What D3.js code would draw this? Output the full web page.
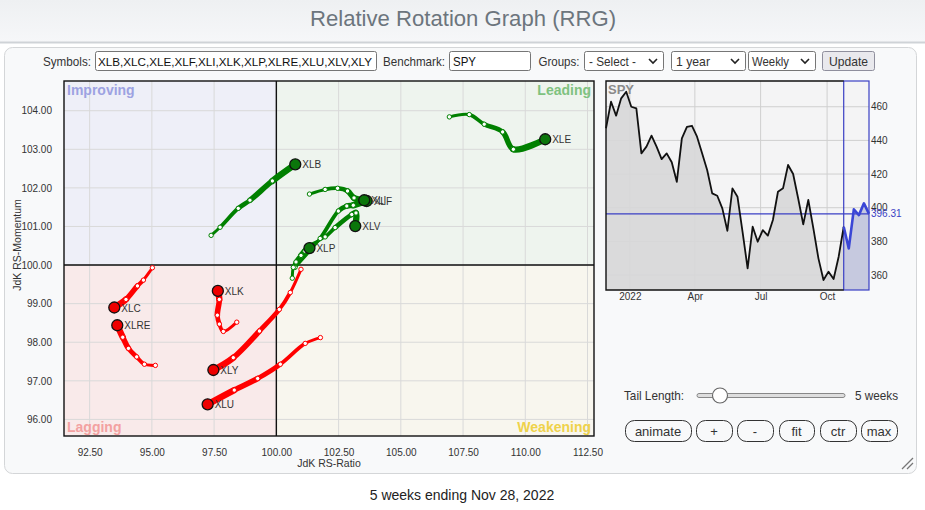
<!DOCTYPE html>
<html>
<head>
<meta charset="utf-8">
<script src="https://cdnjs.cloudflare.com/ajax/libs/d3/7.8.5/d3.min.js"></script>
<style>
  body { margin: 0; background: #fff; }
  svg { display: block; font-family: Arial, "Liberation Sans", sans-serif; }
</style>
</head>
<body>
<div class="svg"></div>
<script>
// sector ETFs on the RRG, oldest week first, last value is the head of the tail
var symbols = ['XLB', 'XLC', 'XLE', 'XLF', 'XLI', 'XLK', 'XLP', 'XLRE', 'XLU', 'XLV', 'XLY'];
var rsRatio = [
  [97.38, 97.74, 98.47, 98.94, 99.84, 100.76],
  [95.02, 94.66, 94.42, 93.96, 93.49],
  [106.95, 107.75, 108.35, 109.09, 109.52, 110.80],
  [100.75, 101.76, 102.49, 102.83, 103.09, 103.63],
  [101.33, 101.96, 102.46, 102.86, 103.12, 103.53],
  [98.41, 97.87, 97.71, 97.63, 97.71, 97.65],
  [100.64, 100.68, 100.79, 100.99, 101.15, 101.33],
  [95.14, 94.70, 94.39, 94.06, 93.83, 93.61],
  [101.77, 101.16, 100.16, 99.25, 98.31, 97.24],
  [101.35, 101.96, 102.36, 103.03, 103.20, 103.17],
  [100.99, 100.56, 100.12, 99.32, 98.27, 97.47]
];
var rsMomentum = [
  [100.77, 100.98, 101.47, 101.68, 102.18, 102.61],
  [99.93, 99.61, 99.46, 99.11, 98.90],
  [103.84, 103.90, 103.65, 103.45, 103.00, 103.26],
  [99.94, 100.69, 101.40, 101.53, 101.55, 101.66],
  [101.84, 101.96, 101.99, 101.92, 101.74, 101.68],
  [98.52, 98.28, 98.47, 98.70, 99.11, 99.33],
  [99.66, 99.94, 100.08, 100.25, 100.36, 100.44],
  [97.40, 97.43, 97.62, 97.84, 98.13, 98.44],
  [98.12, 97.97, 97.43, 97.06, 96.76, 96.39],
  [100.52, 100.73, 100.97, 101.31, 101.35, 101.01],
  [99.89, 99.29, 98.85, 98.29, 97.60, 97.28]
];
var ratioTicks = [92.5, 95, 97.5, 100, 102.5, 105, 107.5, 110, 112.5];
var momentumTicks = [96, 97, 98, 99, 100, 101, 102, 103, 104];

// benchmark, weekly closes
var spyDates = [
  '2021-11-29', '2021-12-06', '2021-12-13', '2021-12-20', '2021-12-27',
  '2022-01-03', '2022-01-10', '2022-01-17', '2022-01-24', '2022-01-31',
  '2022-02-07', '2022-02-14', '2022-02-21', '2022-02-28', '2022-03-07',
  '2022-03-14', '2022-03-21', '2022-03-28', '2022-04-04', '2022-04-11',
  '2022-04-18', '2022-04-25', '2022-05-02', '2022-05-09', '2022-05-16',
  '2022-05-23', '2022-05-30', '2022-06-06', '2022-06-13', '2022-06-20',
  '2022-06-27', '2022-07-04', '2022-07-11', '2022-07-18', '2022-07-25',
  '2022-08-01', '2022-08-08', '2022-08-15', '2022-08-22', '2022-08-29',
  '2022-09-05', '2022-09-12', '2022-09-19', '2022-09-26', '2022-10-03',
  '2022-10-10', '2022-10-17', '2022-10-24', '2022-10-31', '2022-11-07',
  '2022-11-14', '2022-11-21', '2022-11-28'
];
var spyClose = [
  447.2, 463.0, 454.7, 465.0, 468.9, 460.0, 459.0, 432.3, 436.3, 442.8,
  436.3, 428.9, 432.3, 427.0, 415.4, 441.2, 448.1, 448.7, 442.2, 432.3,
  422.4, 408.5, 407.1, 399.6, 386.3, 411.5, 406.5, 385.7, 364.0, 388.7,
  379.8, 386.7, 383.4, 392.7, 409.5, 411.5, 425.4, 420.0, 405.5, 390.1,
  404.6, 387.7, 369.9, 357.0, 362.0, 357.6, 370.9, 388.7, 375.8, 399.0,
  395.6, 402.6, 396.31
];
var spyTicks = [360, 380, 400, 420, 440, 460];
var monthTicks = ['2022-01-01', '2022-04-01', '2022-07-01', '2022-10-01'];
var monthLabels = ['2022', 'Apr', 'Jul', 'Oct'];
var tailWeeks = 5;

function rrgDraw(settings) {
  Object.assign(this, rrgDraw.defaults, settings);
  this.appendSvg('div.svg');
  this.drawHeader();
  this.drawControls();
  this.drawQuadrants();
  this.drawTails();
  this.drawSpy();
  this.drawFooter();
}

rrgDraw.defaults = {
  'svg_width': 925,
  'svg_height': 510,
  'plot': {left: 64, right: 594, top: 81, bottom: 436},
  'spy': {left: 606, right: 869, top: 81, bottom: 290},
  'ratioDomain': [91.47, 112.76],
  'momentumDomain': [95.57, 104.77],
  'spyDomain': [351.1, 475.3]
};

rrgDraw.prototype.appendSvg = function (selector) {
  this.svg = d3.select(selector || 'body')
    .append('svg')
    .attr('width', this.svg_width)
    .attr('height', this.svg_height);
  var defs = this.svg.append('defs');
  var grad = defs.append('linearGradient').attr('id', 'band').attr('x1', 0).attr('x2', 0).attr('y1', 0).attr('y2', 1);
  grad.append('stop').attr('offset', '0%').attr('stop-color', '#eef0f2');
  grad.append('stop').attr('offset', '100%').attr('stop-color', '#f6f7f9');
  defs.append('clipPath').attr('id', 'plotClip').append('rect')
    .attr('x', this.plot.left).attr('y', this.plot.top)
    .attr('width', this.plot.right - this.plot.left).attr('height', this.plot.bottom - this.plot.top);
};

rrgDraw.prototype.drawHeader = function () {
  var svg = this.svg;
  svg.append('rect').attr('x', 0).attr('y', 0).attr('width', this.svg_width).attr('height', 42).attr('fill', 'url(#band)');
  svg.append('rect').attr('x', 0).attr('y', 41.5).attr('width', this.svg_width).attr('height', 2).attr('fill', '#cfd3d7');
  svg.append('text')
    .text('Relative Rotation Graph (RRG)')
    .attr('x', 463).attr('y', 26)
    .attr('text-anchor', 'middle')
    .attr('font-family', '"Liberation Sans Narrow", "Arial Narrow", Arial, sans-serif')
    .attr('font-size', '22px')
    .attr('textLength', 306).attr('lengthAdjust', 'spacingAndGlyphs')
    .attr('fill', '#6c757d');
  // main panel
  svg.append('rect')
    .attr('x', 4.5).attr('y', 47.5).attr('width', 912).attr('height', 426).attr('rx', 8)
    .attr('fill', '#f8f9fa').attr('stroke', '#d4d6d8');
};

rrgDraw.prototype.drawControls = function () {
  var svg = this.svg;
  var g = svg.append('g').attr('font-size', '13px').attr('fill', '#333');
  function label(txt, x, w) {
    g.append('text').text(txt).attr('x', x).attr('y', 65.5)
      .attr('textLength', w).attr('lengthAdjust', 'spacingAndGlyphs');
  }
  function box(x, w, fill, stroke) {
    g.append('rect').attr('x', x + 0.5).attr('y', 51.5).attr('width', w).attr('height', 19).attr('rx', 2)
      .attr('fill', fill || '#fff').attr('stroke', stroke || '#767676');
  }
  function chevron(x) {
    g.append('path').attr('d', 'M' + (x - 4) + ',59 L' + x + ',63 L' + (x + 4) + ',59')
      .attr('fill', 'none').attr('stroke', '#222').attr('stroke-width', 1.6);
  }
  label('Symbols:', 43, 48);
  box(95, 281);
  g.append('text').text(symbols.join(','))
    .attr('x', 98).attr('y', 65.5).attr('font-size', '11.5px')
    .attr('textLength', 274).attr('lengthAdjust', 'spacingAndGlyphs').attr('fill', '#111');
  label('Benchmark:', 383, 62);
  box(449, 81);
  g.append('text').text('SPY').attr('x', 453).attr('y', 65.5).attr('fill', '#111')
    .attr('textLength', 23).attr('lengthAdjust', 'spacingAndGlyphs');
  label('Groups:', 538.5, 41);
  box(584, 79);
  label('- Select -', 589, 47);
  chevron(653);
  box(671, 74);
  label('1 year', 676, 34);
  chevron(735);
  box(748, 67);
  label('Weekly', 752, 37);
  chevron(805);
  box(822, 52, '#e9e9ed', '#8f8f9d');
  label('Update', 829, 39);
};

rrgDraw.prototype.drawQuadrants = function () {
  var p = this.plot;
  var svg = this.svg;
  var x = this.x = d3.scaleLinear().domain(this.ratioDomain).range([p.left, p.right]);
  var y = this.y = d3.scaleLinear().domain(this.momentumDomain).range([p.bottom, p.top]);
  var cx = x(100), cy = y(100);

  var quads = [
    {name: 'Improving', x0: p.left, x1: cx, y0: p.top, y1: cy, bg: '#eeeff8', fg: '#9da2e2'},
    {name: 'Leading', x0: cx, x1: p.right, y0: p.top, y1: cy, bg: '#eef4ee', fg: '#7fc27f'},
    {name: 'Lagging', x0: p.left, x1: cx, y0: cy, y1: p.bottom, bg: '#f9eaea', fg: '#f3a1a1'},
    {name: 'Weakening', x0: cx, x1: p.right, y0: cy, y1: p.bottom, bg: '#f8f6ee', fg: '#efd24a'}
  ];
  svg.selectAll('rect.quad')
    .data(quads)
    .enter()
    .append('rect')
    .attr('class', 'quad')
    .attr('x', function (d) { return d.x0; })
    .attr('y', function (d) { return d.y0; })
    .attr('width', function (d) { return d.x1 - d.x0; })
    .attr('height', function (d) { return d.y1 - d.y0; })
    .attr('fill', function (d) { return d.bg; });

  // grid
  svg.append('g').selectAll('line')
    .data(ratioTicks)
    .enter()
    .append('line')
    .attr('x1', function (d) { return x(d); }).attr('x2', function (d) { return x(d); })
    .attr('y1', p.top).attr('y2', p.bottom)
    .attr('stroke', '#d9d9d9');
  svg.append('g').selectAll('line')
    .data(momentumTicks)
    .enter()
    .append('line')
    .attr('y1', function (d) { return y(d); }).attr('y2', function (d) { return y(d); })
    .attr('x1', p.left).attr('x2', p.right)
    .attr('stroke', '#d9d9d9');

  svg.selectAll('text.quad')
    .data(quads)
    .enter()
    .append('text')
    .attr('class', 'quad')
    .text(function (d) { return d.name; })
    .attr('x', function (d) { return d.x0 === p.left ? p.left + 3 : p.right - 3; })
    .attr('y', function (d) { return d.y0 === p.top ? p.top + 14 : p.bottom - 4; })
    .attr('text-anchor', function (d) { return d.x0 === p.left ? 'start' : 'end'; })
    .attr('font-size', '14px')
    .attr('font-weight', 'bold')
    .attr('fill', function (d) { return d.fg; });

  // border and centre lines
  svg.append('rect')
    .attr('x', p.left).attr('y', p.top).attr('width', p.right - p.left).attr('height', p.bottom - p.top)
    .attr('fill', 'none').attr('stroke', '#111').attr('stroke-width', 1.4);
  svg.append('line').attr('x1', cx).attr('x2', cx).attr('y1', p.top).attr('y2', p.bottom)
    .attr('stroke', '#111').attr('stroke-width', 1.4);
  svg.append('line').attr('x1', p.left).attr('x2', p.right).attr('y1', cy).attr('y2', cy)
    .attr('stroke', '#111').attr('stroke-width', 1.4);

  // axes
  var fmt = d3.format('.2f');
  var ax = svg.append('g')
    .attr('transform', 'translate(0,' + p.bottom + ')')
    .call(d3.axisBottom(x).tickValues(ratioTicks).tickFormat(fmt).tickSize(0).tickPadding(13));
  var ay = svg.append('g')
    .attr('transform', 'translate(' + p.left + ',0)')
    .call(d3.axisLeft(y).tickValues(momentumTicks).tickFormat(fmt).tickSize(0).tickPadding(12));
  [ax, ay].forEach(function (a) {
    a.select('.domain').remove();
    a.selectAll('text').attr('font-size', '10px').attr('font-family', 'Arial, sans-serif').attr('fill', '#333');
  });

  svg.append('text').text('JdK RS-Ratio')
    .attr('x', (p.left + p.right) / 2).attr('y', 467)
    .attr('text-anchor', 'middle').attr('font-size', '10.5px').attr('fill', '#333');
  svg.append('text').text('JdK RS-Momentum')
    .attr('transform', 'translate(20.5,245) rotate(-90)')
    .attr('text-anchor', 'middle').attr('font-size', '10.5px').attr('fill', '#333');
};

rrgDraw.prototype.drawTails = function () {
  var x = this.x, y = this.y;
  var g = this.svg.append('g').attr('clip-path', 'url(#plotClip)');
  // colour of a tail comes from the quadrant of its head
  function quadColor(r, m) {
    if (r >= 100 && m >= 100) { return ['#008000', '#0b760b']; }
    if (r < 100 && m < 100) { return ['#ff0000', '#ee0000']; }
    if (r < 100) { return ['#3344dd', '#2233cc']; }
    return ['#e8c400', '#d4b400'];
  }
  var line = d3.line()
    .x(function (d) { return x(d[0]); })
    .y(function (d) { return y(d[1]); })
    .curve(d3.curveCatmullRom.alpha(0.5));

  var tails = symbols.map(function (s, i) {
    var pts = rsRatio[i].map(function (r, k) { return [r, rsMomentum[i][k]]; });
    var head = pts[pts.length - 1];
    return {name: s, pts: pts, head: head, color: quadColor(head[0], head[1])};
  });

  // tapered lines: one bezier piece per week, getting thicker towards the head
  tails.forEach(function (t) {
    var n = t.pts.length;
    var pieces = line(t.pts).split('C').slice(1);
    pieces.forEach(function (c, k) {
      var start = [x(t.pts[k][0]), y(t.pts[k][1])];
      g.append('path')
        .attr('d', 'M' + start.join(',') + 'C' + c)
        .attr('fill', 'none')
        .attr('stroke', t.color[0])
        .attr('stroke-linecap', 'round')
        .attr('stroke-width', 3 + 3.4 * k / Math.max(1, n - 2));
    });
  });
  tails.forEach(function (t) {
    g.selectAll(null)
      .data(t.pts.slice(0, -1))
      .enter()
      .append('circle')
      .attr('cx', function (d) { return x(d[0]); })
      .attr('cy', function (d) { return y(d[1]); })
      .attr('r', 2.2)
      .attr('fill', '#fff')
      .attr('stroke', t.color[0])
      .attr('stroke-width', 1);
  });
  g.selectAll('circle.head')
    .data(tails)
    .enter()
    .append('circle')
    .attr('class', 'head')
    .attr('cx', function (d) { return x(d.head[0]); })
    .attr('cy', function (d) { return y(d.head[1]); })
    .attr('r', 5.5)
    .attr('fill', function (d) { return d.color[1]; })
    .attr('stroke', '#111')
    .attr('stroke-width', 1.3);
  g.selectAll('text.sym')
    .data(tails)
    .enter()
    .append('text')
    .attr('class', 'sym')
    .text(function (d) { return d.name; })
    .attr('x', function (d) { return x(d.head[0]) + 7; })
    .attr('y', function (d) { return y(d.head[1]) + 4; })
    .attr('font-size', '10px')
    .attr('fill', '#333');
};

rrgDraw.prototype.drawSpy = function () {
  var s = this.spy;
  var svg = this.svg;
  var parse = d3.timeParse('%Y-%m-%d');
  var pts = spyDates.map(function (d, i) { return {date: parse(d), close: spyClose[i]}; });
  var sx = d3.scaleTime().domain(d3.extent(pts, function (d) { return d.date; })).range([s.left, s.right]);
  var sy = d3.scaleLinear().domain(this.spyDomain).range([s.bottom, s.top]);
  var tailStart = pts.length - 1 - tailWeeks;
  var bx = sx(pts[tailStart].date);
  var last = pts[pts.length - 1];

  svg.append('rect').attr('x', s.left).attr('y', s.top).attr('width', s.right - s.left).attr('height', s.bottom - s.top)
    .attr('fill', '#f4f4f5');
  var months = monthTicks.map(parse);
  svg.append('g').selectAll('line')
    .data(months)
    .enter()
    .append('line')
    .attr('x1', function (d) { return sx(d); }).attr('x2', function (d) { return sx(d); })
    .attr('y1', s.top).attr('y2', s.bottom)
    .attr('stroke', '#cfcfcf');
  svg.append('g').selectAll('line')
    .data(spyTicks)
    .enter()
    .append('line')
    .attr('y1', function (d) { return sy(d); }).attr('y2', function (d) { return sy(d); })
    .attr('x1', s.left).attr('x2', s.right)
    .attr('stroke', '#cfcfcf');

  var area = d3.area()
    .x(function (d) { return sx(d.date); })
    .y0(s.bottom)
    .y1(function (d) { return sy(d.close); });
  var line = d3.line()
    .x(function (d) { return sx(d.date); })
    .y(function (d) { return sy(d.close); });

  svg.append('path').attr('d', area(pts.slice(0, tailStart + 1))).attr('fill', '#d7d7d8').attr('opacity', 0.9);
  svg.append('path').attr('d', area(pts.slice(tailStart))).attr('fill', '#c6c9df');
  svg.append('rect').attr('x', bx).attr('y', s.top).attr('width', s.right - bx).attr('height', s.bottom - s.top)
    .attr('fill', 'none').attr('stroke', '#3a3fc4').attr('stroke-width', 1.2);
  svg.append('line').attr('x1', s.left).attr('x2', s.right).attr('y1', sy(last.close)).attr('y2', sy(last.close))
    .attr('stroke', '#3a3fc4').attr('stroke-width', 1.2);
  svg.append('path').attr('d', line(pts.slice(0, tailStart + 1)))
    .attr('fill', 'none').attr('stroke', '#111').attr('stroke-width', 1.8).attr('stroke-linejoin', 'round');
  svg.append('path').attr('d', line(pts.slice(tailStart)))
    .attr('fill', 'none').attr('stroke', '#3a46d6').attr('stroke-width', 2.6).attr('stroke-linejoin', 'round');

  // border, left/bottom/top in black, blue part on the right
  svg.append('path')
    .attr('d', 'M' + bx + ',' + s.top + 'H' + s.left + 'V' + s.bottom + 'H' + bx)
    .attr('fill', 'none').attr('stroke', '#111').attr('stroke-width', 1.4);

  svg.append('text').text('SPY').attr('x', s.left + 2).attr('y', s.top + 13)
    .attr('font-size', '13px').attr('font-weight', 'bold').attr('fill', '#8a8a8a');

  var ay = svg.append('g')
    .attr('transform', 'translate(' + s.right + ',0)')
    .call(d3.axisRight(sy).tickValues(spyTicks).tickSize(0).tickPadding(2));
  var ax = svg.append('g')
    .attr('transform', 'translate(0,' + s.bottom + ')')
    .call(d3.axisBottom(sx).tickValues(months).tickFormat(function (d, i) { return monthLabels[i]; }).tickSize(0).tickPadding(3));
  [ax, ay].forEach(function (a) {
    a.select('.domain').remove();
    a.selectAll('text').attr('font-size', '10px').attr('font-family', 'Arial, sans-serif').attr('fill', '#333');
  });
  svg.append('text').text(d3.format('.2f')(last.close))
    .attr('x', s.right + 2).attr('y', sy(last.close)).attr('dy', '0.32em')
    .attr('font-size', '10px').attr('fill', '#3a3fc4');
};

rrgDraw.prototype.drawFooter = function () {
  var svg = this.svg;
  var g = svg.append('g').attr('font-size', '13px').attr('fill', '#333');
  g.append('text').text('Tail Length:').attr('x', 624).attr('y', 399.5)
    .attr('textLength', 60).attr('lengthAdjust', 'spacingAndGlyphs');
  g.append('rect').attr('x', 697).attr('y', 393.5).attr('width', 148).attr('height', 4).attr('rx', 2)
    .attr('fill', '#dedede').attr('stroke', '#888');
  g.append('circle').attr('cx', 720).attr('cy', 395.5).attr('r', 7.5)
    .attr('fill', '#fff').attr('stroke', '#666').attr('stroke-width', 1.1);
  g.append('text').text(tailWeeks + ' weeks').attr('x', 855).attr('y', 399.5)
    .attr('textLength', 43).attr('lengthAdjust', 'spacingAndGlyphs');

  var buttons = [
    {t: 'animate', x0: 625, x1: 691},
    {t: '+', x0: 696, x1: 732},
    {t: '-', x0: 737, x1: 773},
    {t: 'fit', x0: 779, x1: 814},
    {t: 'ctr', x0: 820, x1: 856},
    {t: 'max', x0: 861, x1: 897}
  ];
  var b = g.selectAll('g.btn')
    .data(buttons)
    .enter()
    .append('g')
    .attr('class', 'btn');
  b.append('rect')
    .attr('x', function (d) { return d.x0 + 0.5; })
    .attr('y', 420.5)
    .attr('width', function (d) { return d.x1 - d.x0; })
    .attr('height', 21)
    .attr('rx', 9)
    .attr('fill', '#f8f9fa')
    .attr('stroke', '#333');
  b.append('text')
    .text(function (d) { return d.t; })
    .attr('x', function (d) { return (d.x0 + d.x1) / 2; })
    .attr('y', 435.5)
    .attr('text-anchor', 'middle');

  // resize grip
  [[913, 458, 902, 469], [913, 463, 907, 469]].forEach(function (l) {
    svg.append('line').attr('x1', l[0]).attr('y1', l[1]).attr('x2', l[2]).attr('y2', l[3])
      .attr('stroke', '#777').attr('stroke-width', 1.2);
  });

  svg.append('text').text(tailWeeks + ' weeks ending Nov 28, 2022')
    .attr('x', 462).attr('y', 500)
    .attr('text-anchor', 'middle').attr('font-size', '14px').attr('fill', '#222');
};

var draw = new rrgDraw({});
</script>
</body>
</html>
